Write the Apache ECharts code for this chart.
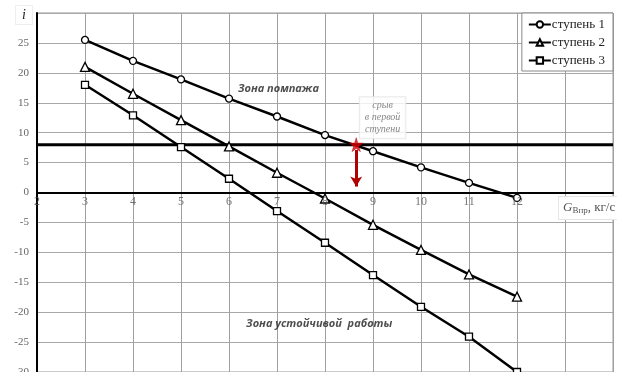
<!DOCTYPE html>
<html>
<head>
<meta charset="utf-8">
<script src="https://cdn.jsdelivr.net/npm/echarts@6/dist/echarts.min.js"></script>
<style>
  html, body { margin: 0; padding: 0; background: #fff; }
  #chart { width: 617px; height: 372px; }
</style>
</head>
<body>
<div id="chart"></div>
<script>
// Расход воздуха, кг/с
const flow = [3, 4, 5, 6, 7, 8, 9, 10, 11, 12];
// Показатель i по ступеням
const stage1 = [25.5, 22.0, 18.9, 15.7, 12.7, 9.6, 6.9, 4.2, 1.6, -0.9];
const stage2 = [21.0, 16.5, 12.1, 7.7, 3.3, -1.0, -5.4, -9.6, -13.7, -17.4];
const stage3 = [18.0, 12.9, 7.6, 2.3, -3.1, -8.4, -13.8, -19.1, -24.1, -30.0];
const seriesNames = ['ступень 1', 'ступень 2', 'ступень 3'];
const markers = ['circle', 'triangle', 'rect'];

// Граница помпажа и точка срыва
const surgeLevel = 8;
const stallPoint = [8.65, 8];
const stallArrowEnd = [8.65, 1];

// Подписи зон
const zoneSurge = { text: 'Зона помпажа', at: [7.03, 17.3] };
const zoneStable = { text: 'Зона устойчивой  работы', at: [7.88, -22.0] };
const stallNote = { text: 'срыв\nв первой\nступени', at: [9.2, 12.5] };

// Подписи делений оси расхода (стоят на линии i = 0)
const xTicks = [2, 3, 4, 5, 6, 7, 8, 9, 10, 11, 12];

const serif = '"Liberation Serif", "DejaVu Serif", serif';
const sans = '"Open Sans", "Noto Sans", sans-serif';

const chart = echarts.init(document.getElementById('chart'), null, { renderer: 'canvas' });

function stageSeries(name, values, symbol) {
  return {
    name: name,
    type: 'line',
    data: flow.map((x, i) => [x, values[i]]),
    symbol: symbol,
    symbolSize: symbol === 'triangle' ? 9 : 7,
    showAllSymbol: true,
    lineStyle: { color: '#000', width: 2.5 },
    itemStyle: { color: '#fff', borderColor: '#000', borderWidth: 1.3 },
    z: 5
  };
}

const hiddenDot = { color: 'rgba(0,0,0,0)', borderWidth: 0 };

const option = {
  animation: false,
  backgroundColor: '#fff',
  grid: {
    left: 37, right: 4, top: 13, bottom: 0,
    outerBoundsMode: 'none',
    containLabel: false,
    show: true, borderColor: '#999', borderWidth: 1, backgroundColor: '#fff'
  },
  legend: {
    data: seriesNames,
    orient: 'vertical',
    right: 4, top: 13,
    backgroundColor: '#fff',
    borderColor: '#888', borderWidth: 1,
    padding: [5, 8, 4, 6],
    itemGap: 5,
    itemWidth: 22, itemHeight: 8,
    textStyle: { fontFamily: serif, fontSize: 13, color: '#222', padding: [0, 0, 0, -4] }
  },
  xAxis: {
    type: 'value',
    min: 2, max: 14, interval: 1,
    axisLine: { show: true, onZero: true, lineStyle: { color: '#000', width: 2 } },
    axisTick: { show: false },
    splitLine: { show: true, lineStyle: { color: '#a0a0a0', width: 1 } },
    axisLabel: { show: false }
  },
  yAxis: {
    type: 'value',
    min: -30, max: 30, interval: 5,
    axisLine: { show: true, lineStyle: { color: '#000', width: 2 } },
    axisTick: { show: false },
    splitLine: { show: true, lineStyle: { color: '#a8a8a8', width: 1 } },
    axisLabel: {
      fontFamily: serif, fontSize: 11, color: '#666', margin: 8,
      formatter: v => (v === 30 ? '' : String(v))
    }
  },
  graphic: [
    {
      type: 'text', left: 15, top: 5, z: 10,
      style: {
        text: 'i', fontFamily: serif, fontStyle: 'italic', fontSize: 14, fill: '#222',
        backgroundColor: '#fff', borderColor: '#eee', borderWidth: 1, padding: [2, 6, 2, 6]
      }
    },
    {
      type: 'text', left: 558, top: 196, z: 10,
      style: {
        rich: {
          g: { fontFamily: serif, fontStyle: 'italic', fontSize: 13, fill: '#555', color: '#555' },
          s: { fontFamily: serif, fontSize: 9, fill: '#555', color: '#555', padding: [5, 0, 0, 0] },
          u: { fontFamily: serif, fontSize: 13, fill: '#555', color: '#555' }
        },
        text: '{g|G}{s|Впр}{u|, кг/с}',
        backgroundColor: '#fff', borderColor: '#e6e6e6', borderWidth: 1, padding: [4, 4, 4, 4]
      }
    }
  ],
  series: [
    stageSeries(seriesNames[0], stage1, markers[0]),
    stageSeries(seriesNames[1], stage2, markers[1]),
    stageSeries(seriesNames[2], stage3, markers[2]),
    {
      // подписи делений оси расхода
      type: 'scatter',
      data: xTicks.map(x => [x, 0]),
      symbolSize: 1,
      itemStyle: hiddenDot,
      silent: true,
      z: 6,
      label: {
        show: true, position: 'bottom', distance: 3,
        fontFamily: serif, fontSize: 12, color: '#555',
        formatter: p => String(p.value[0])
      }
    },
    {
      // граница помпажа
      type: 'line',
      data: [[2, surgeLevel], [14, surgeLevel]],
      symbol: 'none',
      lineStyle: { color: '#000', width: 3 },
      z: 4,
      silent: true,
      markLine: {
        silent: true,
        symbol: ['none', 'arrow'],
        symbolSize: [9, 10],
        lineStyle: { color: '#b00000', width: 3, type: 'solid' },
        label: { show: false },
        data: [[{ coord: [stallPoint[0], stallPoint[1] - 0.9] }, { coord: stallArrowEnd }]]
      }
    },
    {
      // точка срыва
      type: 'scatter',
      data: [stallPoint],
      symbol: 'path://M50,0 L61,35 L98,35 L68,57 L79,91 L50,70 L21,91 L32,57 L2,35 L39,35 Z',
      symbolSize: 14,
      itemStyle: { color: '#e00000', borderColor: '#900', borderWidth: 0.5 },
      z: 8
    },
    {
      // подписи зон
      type: 'scatter',
      symbolSize: 1,
      itemStyle: hiddenDot,
      z: 9,
      silent: true,
      data: [
        { value: zoneSurge.at, label: { formatter: zoneSurge.text } },
        { value: zoneStable.at, label: { formatter: zoneStable.text } }
      ],
      label: {
        show: true, position: 'inside',
        fontFamily: sans, fontStyle: 'italic', fontWeight: 'bold', fontSize: 11, color: '#222'
      }
    },
    {
      type: 'scatter',
      symbolSize: 1,
      itemStyle: hiddenDot,
      z: 9,
      silent: true,
      data: [{ value: stallNote.at, label: { formatter: stallNote.text } }],
      label: {
        show: true, position: 'inside',
        fontFamily: serif, fontStyle: 'italic', fontSize: 10, color: '#666', lineHeight: 12,
        backgroundColor: '#fff', borderColor: '#e4e4e4', borderWidth: 1, padding: [3, 5, 2, 5],
        align: 'center'
      }
    }
  ]
};

chart.setOption(option);
</script>
</body>
</html>
